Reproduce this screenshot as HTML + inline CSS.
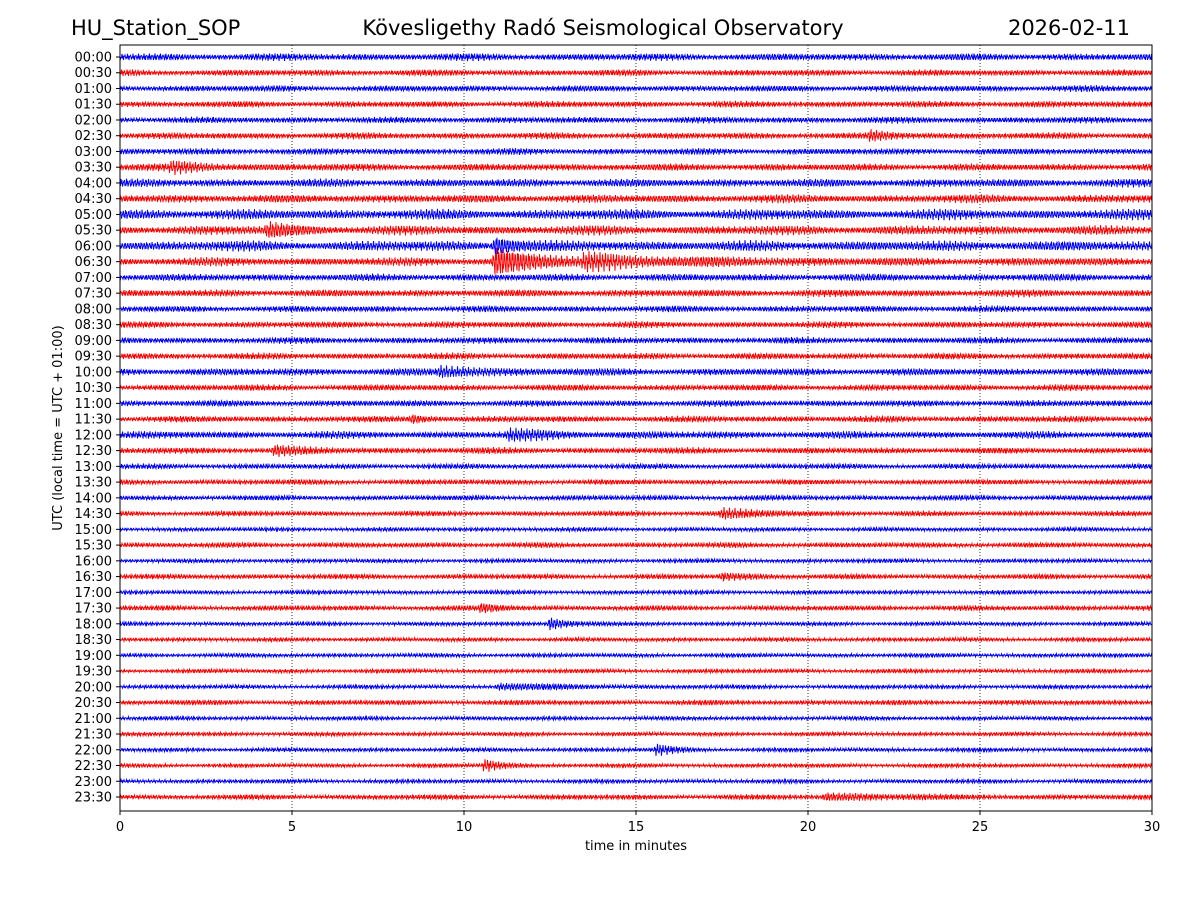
<!DOCTYPE html>
<html><head><meta charset="utf-8"><style>
body{margin:0;background:#fff;font-family:"DejaVu Sans",sans-serif;}
</style></head><body>
<svg id="chart" width="1200" height="900" xmlns="http://www.w3.org/2000/svg" font-family="DejaVu Sans, Liberation Sans, sans-serif">
<rect width="1200" height="900" fill="#fff"/>
<text x="71" y="35" font-size="21">HU_Station_SOP</text>
<text x="603" y="35" font-size="21" text-anchor="middle">Kövesligethy Radó Seismological Observatory</text>
<text x="1130" y="35" font-size="21" text-anchor="end">2026-02-11</text>
<g id="grid"></g>
<g id="traces"></g>
<g id="axes"></g>
<rect x="120" y="45" width="1032" height="766" fill="none" stroke="#000" stroke-width="1"/>
<text x="636" y="850" font-size="13" text-anchor="middle">time in minutes</text>
<text x="62" y="428" font-size="13" text-anchor="middle" transform="rotate(-90 62 428)">UTC (local time = UTC + 01:00)</text>
</svg>
<script>
const rowLabels=[];for(let h=0;h<24;h++){const hh=String(h).padStart(2,'0');rowLabels.push(hh+':00',hh+':30');}
const xTicks=[0,5,10,15,20,25,30];
const baseAmp=[3.5,3,3,3,3,3,3,3.5,4,4,5,4.5,5,4,3.5,3.5,3,3,3,3,3.5,3,3,3,3.5,3,2.5,2.5,2.5,2.5,2,2.5,2,2.5,2,2.5,2,2,2,2,2,2.5,2,2,2,2,2,2.5];
const eventRows=[13,12,13,11,7,5,23,25,29,33,35,36,44,45,20,24,47,40];
const eventMin=[10.9,10.9,13.5,4.3,1.5,21.8,8.5,4.5,17.5,17.5,10.5,12.5,15.6,10.6,9.3,11.3,20.5,11];
const eventAmp=[14,9,6,6,4,4,4,5,4,3,4,6,5,6,4,4,3,3];
const eventDur=[1.2,0.6,3,0.8,1.2,0.6,0.4,0.6,1.2,0.8,0.6,0.6,0.5,0.5,1.5,1.5,2,2];
const X0=120,X1=1152,Y0=57,DY=(797-57)/47;
const xs=m=>X0+(X1-X0)*m/30, ys=r=>Y0+r*DY;
const NS='http://www.w3.org/2000/svg';
const grid=document.getElementById('grid'),tr=document.getElementById('traces'),ax=document.getElementById('axes');
xTicks.forEach((t,i)=>{
 if(i>0&&i<xTicks.length-1){const l=document.createElementNS(NS,'line');
 
 
 l.setAttribute('x1',xs(t));l.setAttribute('x2',xs(t));l.setAttribute('y1',45);l.setAttribute('y2',811);
 l.setAttribute('stroke','#000');l.setAttribute('stroke-width','0.8');l.setAttribute('stroke-dasharray','1,2');grid.appendChild(l);}
 const k=document.createElementNS(NS,'line');
 
 
 k.setAttribute('x1',xs(t));k.setAttribute('x2',xs(t));k.setAttribute('y1',811);k.setAttribute('y2',815);k.setAttribute('stroke','#000');ax.appendChild(k);
 const tx=document.createElementNS(NS,'text');
 
 
 tx.setAttribute('x',xs(t));tx.setAttribute('y',831);tx.setAttribute('font-size','13');tx.setAttribute('text-anchor','middle');tx.textContent=t;ax.appendChild(tx);
});
rowLabels.forEach((lab,r)=>{
 const y=ys(r);
 const k=document.createElementNS(NS,'line');
 
 
 k.setAttribute('x1',116);k.setAttribute('x2',120);k.setAttribute('y1',y);k.setAttribute('y2',y);k.setAttribute('stroke','#000');ax.appendChild(k);
 const tx=document.createElementNS(NS,'text');
 
 
 tx.setAttribute('x',112);tx.setAttribute('y',y+4.5);tx.setAttribute('font-size','13');tx.setAttribute('text-anchor','end');tx.textContent=lab;ax.appendChild(tx);
 let d='';
 for(let px=0;px<=X1-X0;px+=0.5){
  const m=px/(X1-X0)*30;
  let a=1.15*baseAmp[r]*(0.8+0.25*Math.sin(px*0.05+r*1.7)*Math.sin(px*0.013+r));
  eventMin.forEach((em,i)=>{if(eventRows[i]===r){const dm=m-em;if(dm>-0.1&&dm<eventDur[i]*3){a+=eventAmp[i]*(dm<0?(dm+0.1)*10:Math.exp(-dm/eventDur[i]));}}});
  const w=Math.sin(px*2.3+r)*0.55+Math.sin(px*5.7+r*3)*0.45;
  d+=(px===0?'M':'L')+(X0+px).toFixed(1)+' '+(y+a*w).toFixed(1);
 }
 const p=document.createElementNS(NS,'path');
 
 
 p.setAttribute('d',d);p.setAttribute('fill','none');p.setAttribute('stroke',r%2?'#ff0000':'#0000ff');p.setAttribute('stroke-width','1');
 tr.appendChild(p);
});
</script>
</body></html>
